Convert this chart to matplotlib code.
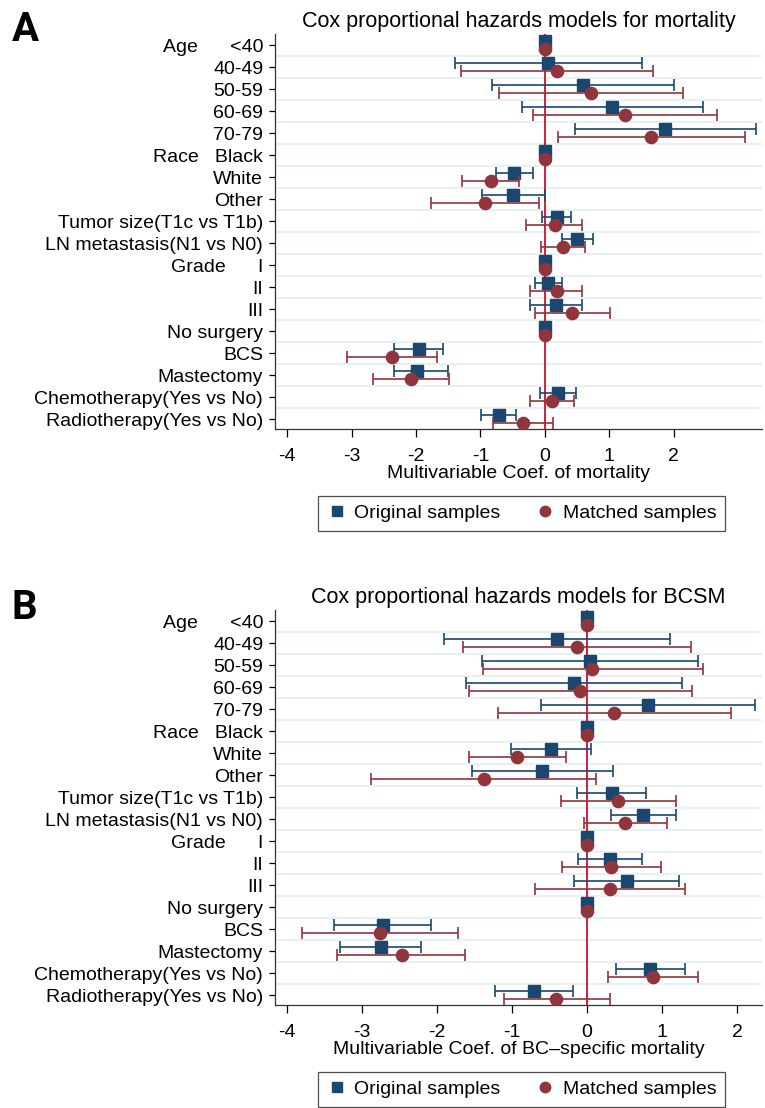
import numpy as np
import matplotlib.pyplot as plt
from matplotlib.lines import Line2D

plt.rcParams['font.family'] = ['Liberation Sans', 'DejaVu Sans']

# row labels (same for both panels)
labels = ['Age      <40', '40-49', '50-59', '60-69', '70-79',
          'Race   Black', 'White', 'Other',
          'Tumor size(T1c vs T1b)', 'LN metastasis(N1 vs N0)',
          'Grade      I', 'II', 'III',
          'No surgery', 'BCS', 'Mastectomy',
          'Chemotherapy(Yes vs No)', 'Radiotherapy(Yes vs No)']

# Panel A - all-cause mortality
a_orig = [0, 0.05, 0.59, 1.04, 1.86, 0, -0.48, -0.49, 0.19, 0.50,
          0, 0.05, 0.17, 0, -1.96, -1.99, 0.21, -0.71]
a_orig_lo = [0, -1.40, -0.82, -0.36, 0.46, 0, -0.76, -0.98, -0.04, 0.26,
             0, -0.16, -0.23, 0, -2.35, -2.34, -0.08, -0.99]
a_orig_hi = [0, 1.51, 2.01, 2.45, 3.27, 0, -0.18, 0.0, 0.41, 0.74,
             0, 0.26, 0.58, 0, -1.58, -1.50, 0.49, -0.45]
a_match = [0, 0.19, 0.71, 1.25, 1.65, 0, -0.84, -0.93, 0.15, 0.28,
           0, 0.19, 0.42, 0, -2.37, -2.08, 0.11, -0.34]
a_match_lo = [0, -1.31, -0.72, -0.18, 0.21, 0, -1.28, -1.77, -0.29, -0.06,
              0, -0.23, -0.16, 0, -3.08, -2.67, -0.23, -0.80]
a_match_hi = [0, 1.68, 2.15, 2.67, 3.10, 0, -0.40, -0.09, 0.58, 0.62,
              0, 0.58, 1.01, 0, -1.68, -1.49, 0.45, 0.13]

# Panel B - breast cancer specific mortality
b_orig = [0, -0.40, 0.04, -0.18, 0.81, 0, -0.48, -0.60, 0.33, 0.75,
          0, 0.30, 0.53, 0, -2.72, -2.75, 0.84, -0.71]
b_orig_lo = [0, -1.91, -1.40, -1.62, -0.62, 0, -1.02, -1.54, -0.13, 0.32,
             0, -0.12, -0.17, 0, -3.37, -3.29, 0.39, -1.23]
b_orig_hi = [0, 1.11, 1.48, 1.27, 2.24, 0, 0.05, 0.34, 0.79, 1.18,
             0, 0.73, 1.23, 0, -2.08, -2.21, 1.31, -0.19]
b_match = [0, -0.14, 0.07, -0.09, 0.36, 0, -0.94, -1.38, 0.41, 0.51,
           0, 0.32, 0.30, 0, -2.76, -2.47, 0.88, -0.41]
b_match_lo = [0, -1.65, -1.39, -1.58, -1.19, 0, -1.58, -2.88, -0.35, -0.04,
              0, -0.33, -0.69, 0, -3.80, -3.33, 0.28, -1.11]
b_match_hi = [0, 1.38, 1.54, 1.40, 1.92, 0, -0.28, 0.12, 1.18, 1.06,
              0, 0.98, 1.30, 0, -1.72, -1.63, 1.48, 0.30]

xticks = [-4, -3, -2, -1, 0, 1, 2]

BLUE = '#1a476f'
RED = '#90353b'
ZERO = '#d0203a'
GRID = '#e3edf1'


def draw_panel(ax, orig, olo, ohi, match, mlo, mhi, title, xlabel, xlim):
    n = len(labels)
    pos = np.arange(1, n + 1)
    for g in np.arange(1.5, n, 1.0):
        ax.axhline(g, color=GRID, lw=1.2, zorder=0)
    ax.axvline(0, color=ZERO, lw=1.4, zorder=1)

    orig = np.array(orig)
    match = np.array(match)
    ax.errorbar(orig, pos - 0.2,
                xerr=[orig - np.array(olo), np.array(ohi) - orig],
                fmt='s', color=BLUE, ms=8.3, ecolor=BLUE, elinewidth=1.2,
                capsize=4, capthick=1.2, zorder=3)
    ax.errorbar(match, pos + 0.2,
                xerr=[match - np.array(mlo), np.array(mhi) - match],
                fmt='o', color=RED, ms=8.8, ecolor=RED, elinewidth=1.2,
                capsize=4, capthick=1.2, zorder=4)

    ax.set_ylim(n + 0.45, 0.5)
    ax.set_yticks(pos)
    ax.set_yticklabels(labels, fontsize=14)
    ax.set_xlim(*xlim)
    ax.set_xticks(xticks)
    ax.set_xticklabels([str(t) for t in xticks], fontsize=14)
    ax.tick_params(axis='y', length=4, width=0.9, pad=4.5)
    ax.tick_params(axis='x', length=5.5, width=0.9, pad=8.5)
    for s in ['top', 'right']:
        ax.spines[s].set_visible(False)
    for s in ['left', 'bottom']:
        ax.spines[s].set_linewidth(0.9)
        ax.spines[s].set_color('#333333')
    ax.set_title(title, fontsize=15.5, pad=5)
    ax.set_xlabel(xlabel, fontsize=14, labelpad=0)

    handles = [Line2D([], [], marker='s', ls='none', color=BLUE, ms=7.5),
               Line2D([], [], marker='o', ls='none', color=RED, ms=7.5)]
    leg = ax.legend(handles, ['Original samples', 'Matched samples'],
                    loc='center', bbox_to_anchor=(0.507, -0.213), ncol=2,
                    fontsize=14, frameon=True, fancybox=False,
                    handletextpad=0.4, columnspacing=1.8, borderpad=0.45,
                    handlelength=1.0)
    leg.get_frame().set_edgecolor('#222222')
    leg.get_frame().set_linewidth(0.9)


fig = plt.figure(figsize=(7.65, 11.08), dpi=100)
axA = fig.add_axes([275 / 765, 1 - 429 / 1108, 487 / 765, 395 / 1108])
axB = fig.add_axes([275 / 765, 1 - 1005 / 1108, 487 / 765, 395 / 1108])

draw_panel(axA, a_orig, a_orig_lo, a_orig_hi, a_match, a_match_lo, a_match_hi,
           'Cox proportional hazards models for mortality',
           'Multivariable Coef. of mortality', (-4.19, 3.37))
draw_panel(axB, b_orig, b_orig_lo, b_orig_hi, b_match, b_match_lo, b_match_hi,
           'Cox proportional hazards models for BCSM',
           'Multivariable Coef. of BC\u2013specific mortality', (-4.16, 2.33))

letter_font = ['Roboto', 'Liberation Sans', 'DejaVu Sans']
fig.text(12 / 765, 1 - 11 / 1108, 'A', fontsize=29, weight='bold', va='top',
         family=letter_font)
fig.text(12 / 765, 1 - 589 / 1108, 'B', fontsize=29, weight='bold', va='top',
         family=letter_font)

fig.savefig('out.png', dpi=100)
